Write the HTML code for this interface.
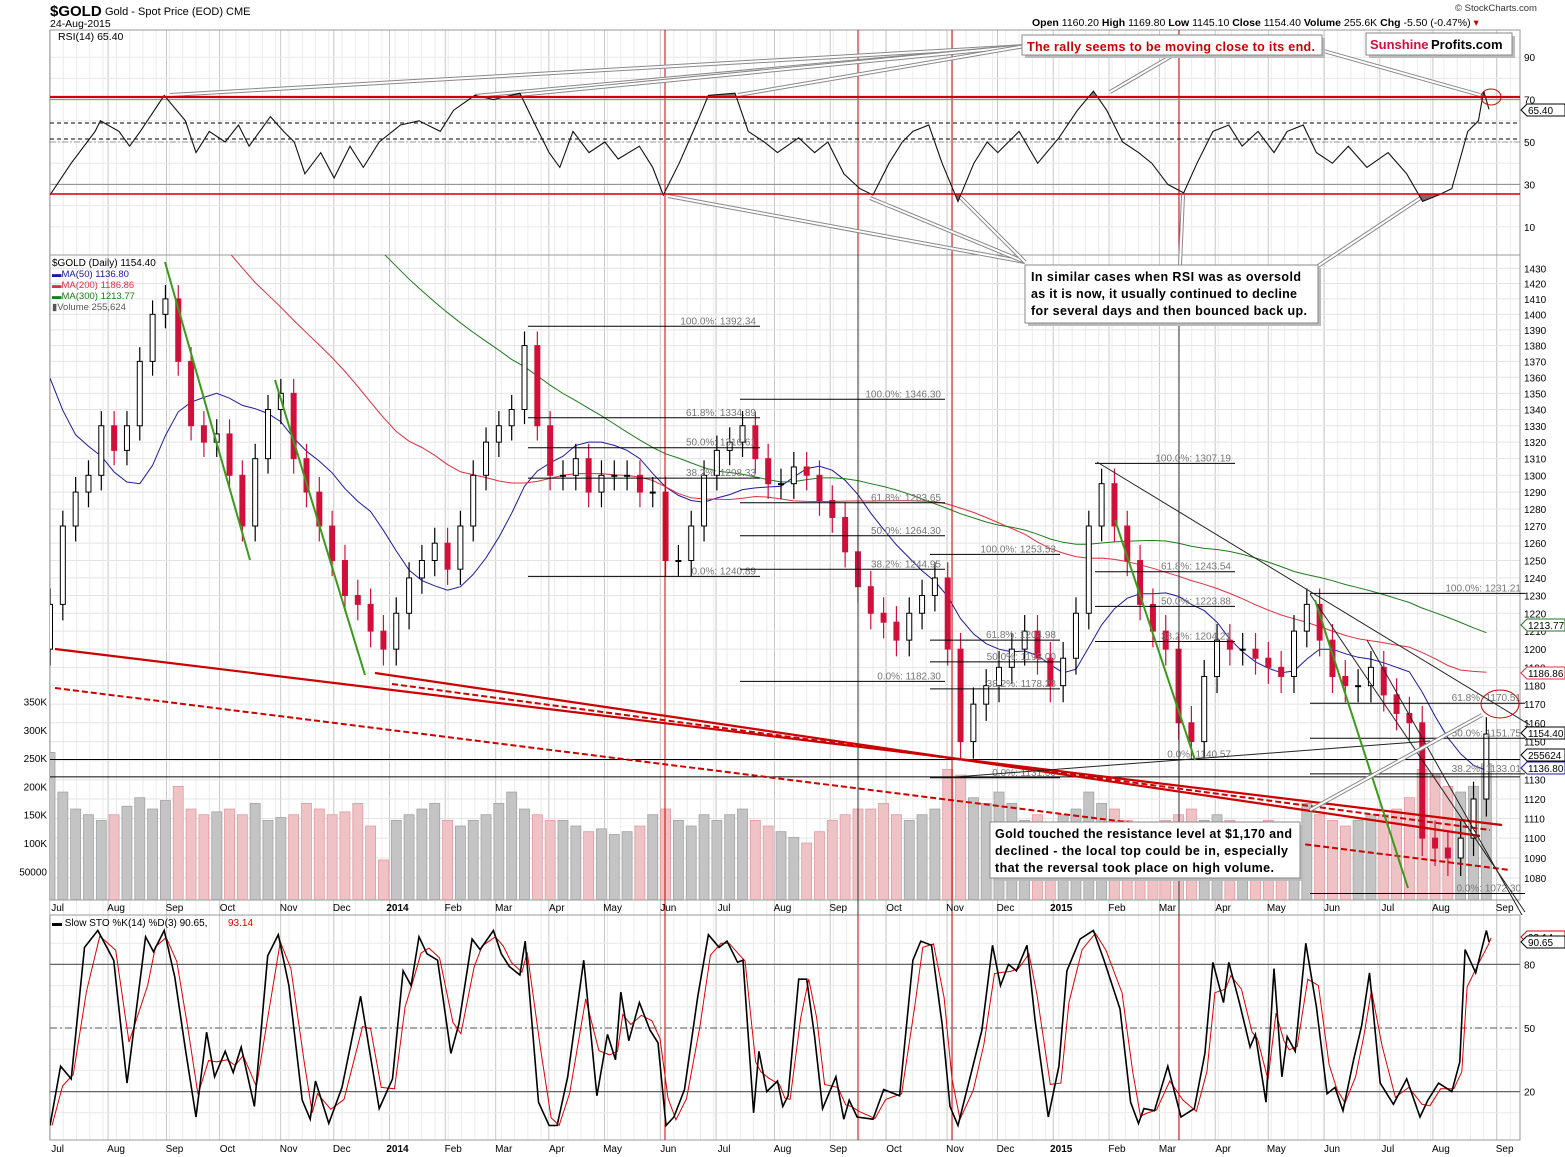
<!DOCTYPE html>
<html><head><meta charset="utf-8"><title>$GOLD chart</title>
<style>
html,body{margin:0;padding:0;background:#fff;}
svg{display:block;font-family:"Liberation Sans",Arial,sans-serif;}
</style></head>
<body>
<svg id="chart" width="1565" height="1157" viewBox="0 0 1565 1157" xmlns="http://www.w3.org/2000/svg">
<defs>
<clipPath id="clipMain"><rect x="50" y="255" width="1470" height="645"/></clipPath>
<clipPath id="clipRsi"><rect x="50" y="30" width="1470" height="225"/></clipPath>
<clipPath id="clipSto"><rect x="50" y="915" width="1470" height="225"/></clipPath>
<clipPath id="clipOS"><rect x="50" y="194" width="1470" height="61"/></clipPath>
<clipPath id="clipOB"><rect x="50" y="30" width="1470" height="67"/></clipPath>
</defs>
<rect x="0" y="0" width="1565" height="1157" fill="#fff"/>
<g id="grid"></g>
<g id="vol" clip-path="url(#clipMain)"></g>
<g id="price" clip-path="url(#clipMain)"></g>
<g id="ann"></g>
<g id="rsi"></g>
<g id="sto"></g>
<g id="labels"></g>

<!-- header -->
<text x="50" y="16" font-size="15" font-weight="bold">$GOLD</text>
<text x="105" y="15" font-size="11">Gold - Spot Price (EOD)  CME</text>
<text x="50" y="27" font-size="10.5">24-Aug-2015</text>
<text x="1455" y="11" font-size="9.5" fill="#333">© StockCharts.com</text>
<text x="1032" y="26" font-size="10.5"><tspan font-weight="bold">Open</tspan> 1160.20 <tspan font-weight="bold">High</tspan> 1169.80 <tspan font-weight="bold">Low</tspan> 1145.10 <tspan font-weight="bold">Close</tspan> 1154.40 <tspan font-weight="bold">Volume</tspan> 255.6K <tspan font-weight="bold">Chg</tspan> -5.50 (-0.47%) <tspan fill="#c00">▾</tspan></text>
</svg>
<script>
// ---------------- DATA ----------------
const monthLabels = ["Jul","Aug","Sep","Oct","Nov","Dec","2014","Feb","Mar","Apr","May","Jun","Jul","Aug","Sep","Oct","Nov","Dec","2015","Feb","Mar","Apr","May","Jun","Jul","Aug","Sep"];
const monthDays = [1,23,45,65,88,108,129,150,169,189,210,231,252,274,295,316,339,358,379,400,419,440,460,481,502,522,546];
const priceTicks = [1080,1090,1100,1110,1120,1130,1140,1150,1160,1170,1180,1190,1200,1210,1220,1230,1240,1250,1260,1270,1280,1290,1300,1310,1320,1330,1340,1350,1360,1370,1380,1390,1400,1410,1420,1430];
const volTicks = [50,100,150,200,250,300,350];
const volTickLabels = ["50000","100K","150K","200K","250K","300K","350K"];
const rsiTicks = [10,30,50,70,90];
const stoTicks = [20,50,80];
// weekly closes (Jul 2013 - Aug 2015)
const weeklyClose = [1225,1270,1290,1300,1330,1315,1330,1370,1400,1410,1370,1330,1320,1325,1300,1270,1310,1340,1350,1310,1290,1270,1250,1230,1225,1210,1200,1220,1240,1250,1260,1245,1270,1300,1320,1330,1340,1380,1330,1300,1300,1310,1290,1300,1300,1300,1290,1290,1250,1250,1270,1300,1315,1320,1330,1310,1295,1295,1305,1300,1285,1275,1255,1235,1220,1215,1205,1220,1230,1240,1200,1150,1170,1180,1190,1200,1210,1195,1180,1195,1220,1270,1295,1270,1250,1225,1210,1200,1160,1150,1185,1205,1200,1200,1195,1190,1185,1210,1225,1205,1185,1180,1180,1190,1175,1165,1160,1100,1095,1090,1100,1120,1154];
// weekly closes May 2012 - Jun 2013 (for moving averages)
const priorClose = [1590,1580,1560,1590,1620,1610,1600,1580,1590,1590,1580,1590,1620,1610,1620,1620,1670,1690,1730,1770,1770,1780,1760,1720,1710,1730,1730,1730,1750,1700,1700,1660,1660,1670,1660,1670,1690,1660,1670,1650,1610,1580,1570,1580,1600,1600,1580,1560,1480,1400,1450,1470,1440,1370,1390,1410,1390,1380,1290,1230];
// weekly volume in thousands
const weeklyVol = [260,190,160,150,140,150,165,180,160,175,200,160,150,155,160,150,170,140,145,150,170,160,150,155,170,130,70,140,150,160,170,140,130,140,150,170,190,160,150,140,140,130,120,125,115,120,130,150,160,140,130,150,140,150,160,140,130,120,110,100,120,140,150,160,160,170,150,140,150,160,230,220,180,170,190,170,140,150,110,150,160,190,170,160,140,130,130,140,150,160,140,150,140,130,130,140,120,130,170,150,140,130,140,150,150,160,180,230,220,200,190,200,240];
// RSI(14): trading-day index, value
const rsiDays = [0,8,17,19,26,30,34,43,51,55,60,66,71,75,83,88,92,96,102,107,113,118,124,132,139,147,152,160,167,177,182,188,192,197,203,209,214,222,227,231,237,244,248,258,263,269,274,282,288,293,299,305,310,316,321,325,331,336,342,348,353,357,365,372,380,387,393,398,404,410,415,421,427,432,438,444,449,455,461,466,472,477,483,489,496,504,511,517,523,528,534,538,540,542];
const rsiVals = [25,40,55,60,55,48,55,72,60,45,55,50,58,48,62,55,50,35,45,33,48,38,50,58,60,55,65,72,70,73,60,45,38,55,45,50,42,48,38,25,40,60,72,73,55,50,45,52,45,50,35,28,25,40,50,55,58,40,22,40,50,45,55,40,52,65,74,65,50,45,40,30,26,40,55,58,48,55,45,55,58,45,40,48,38,45,35,22,25,28,55,60,74,65.4];
// Slow STO %K
const stoDays = [0,4,8,13,18,24,29,36,39,43,47,51,55,59,62,66,69,72,77,82,86,90,95,98,100,105,110,117,120,124,129,133,136,139,142,146,151,154,159,162,167,170,173,177,179,184,188,191,195,201,206,210,213,215,218,222,226,229,232,235,239,244,248,252,255,259,261,265,267,270,274,276,278,282,285,288,291,296,299,301,304,310,314,320,325,328,332,336,339,342,347,351,355,358,361,364,368,371,376,380,383,388,393,397,403,407,410,412,416,421,426,431,435,438,442,444,448,452,454,458,461,464,466,469,473,477,481,484,487,491,494,497,501,506,511,516,519,523,528,531,533,537,541,542];
const stoK = [4,32,26,88,96,82,24,93,86,96,74,40,8,48,27,39,29,41,13,84,94,70,16,7,25,5,22,65,42,12,26,77,70,93,85,82,38,52,92,87,96,85,79,75,91,15,4,4,27,82,18,47,35,67,44,62,49,43,4,8,21,65,94,88,91,81,82,10,39,20,25,13,18,73,73,46,12,27,7,16,8,7,21,18,82,91,89,52,13,4,29,49,89,70,80,77,89,54,8,32,77,92,96,82,59,15,5,12,11,32,8,12,38,81,62,81,62,41,47,15,78,27,46,39,90,60,19,22,11,35,51,76,24,14,26,8,16,24,20,34,87,76,96,90.65];

// ---------------- SCALES ----------------
const NS = "http://www.w3.org/2000/svg";
function xd(d){ return 50 + d*2.655; }
function yP(p){ return 878 - Math.log(p/1080)*2172; }
function yV(k){ return 899.6 - k*0.566; }
function yR(v){ return 142 - (v-50)*2.12; }
function yS(v){ return 1028 - (v-50)*2.12; }
const weekStep = 541/112;
function wx(i){ return xd(i*weekStep); }
function el(tag, attrs, parent){
  const e = document.createElementNS(NS, tag);
  for (const k in attrs) e.setAttribute(k, attrs[k]);
  parent.appendChild(e);
  return e;
}
const G = id => document.getElementById(id);

// ---------------- GRID & PANELS ----------------
const grid = G('grid');
for (let d=0; d<=560; d+=5){
  const x = xd(d); if (x>1520) break;
  const l = el('line',{x1:x,x2:x,y1:30,y2:1140,stroke:'#ececec','stroke-width':1},grid);
  
  
}
monthDays.forEach((d,i)=>{
  const x = xd(d)-3; if (x>1520) return;
  const l = el('line',{x1:x,x2:x,y1:30,y2:1140,stroke:'#c8c8c8','stroke-width':1},grid);
  
  
});
priceTicks.forEach(p=>{
  const y = yP(p);
  const l = el('line',{x1:50,x2:1520,y1:y,y2:y,stroke:'#e4e4e4','stroke-width':1},grid);
  
  
});
for (let v=10; v<=90; v+=10){
  const l1 = el('line',{x1:50,x2:1520,y1:yR(v),y2:yR(v),stroke:'#e8e8e8'},grid);
  
  
  const l2 = el('line',{x1:50,x2:1520,y1:yS(v),y2:yS(v),stroke:'#e8e8e8'},grid);
  
  
}
[[30,225],[255,645],[915,225]].forEach(([y,h])=>{
  const r = el('rect',{x:50,y:y,width:1470,height:h,fill:'none',stroke:'#999','stroke-width':1},grid);
  
  
});

// ---------------- VOLUME ----------------
const vol = G('vol');
weeklyVol.forEach((v,i)=>{
  const open = i===0 ? 1200 : weeklyClose[i-1];
  const down = weeklyClose[i] < open;
  const x = wx(i);
  const r = el('rect',{x:x-5,y:yV(v),width:10,height:899.6-yV(v),fill:down?'#efc2c5':'#c4c4c4',stroke:down?'#e39aa1':'#a3a3a3','stroke-width':0.8},vol);
  
  
});

// ---------------- MOVING AVERAGES ----------------
const allClose = priorClose.concat(weeklyClose);
const off = priorClose.length;
function maPath(n){
  let d='';
  for (let i=0;i<weeklyClose.length;i++){
    const j=i+off; let s=0,c=0;
    for (let k=Math.max(0,j-n+1);k<=j;k++){ s+=allClose[k]; c++; }
    d += (i?'L':'M')+wx(i).toFixed(1)+','+yP(s/c).toFixed(1);
  }
  return d;
}
const price = G('price');
[[10,'#1a1aa0','ma-50-line'],[40,'#e03040','ma-200-line'],[60,'#1f7a1f','ma-300-line']].forEach(([n,c,name])=>{
  const p = el('path',{d:maPath(n),fill:'none',stroke:c,'stroke-width':1},price);
  
  
});

// ---------------- CANDLES ----------------
weeklyClose.forEach((c,i)=>{
  const o = i===0 ? 1200 : weeklyClose[i-1];
  const up = c>=o;
  const x = wx(i);
  const hi = Math.max(o,c)+9, lo = Math.min(o,c)-9;
  const col = up ? '#000' : '#d0103a';
  const w = el('line',{x1:x,x2:x,y1:yP(hi),y2:yP(lo),stroke:col,'stroke-width':1.2},price);
  
  
  const top = yP(Math.max(o,c)), bot = yP(Math.min(o,c));
  const b = el('rect',{x:x-2.5,y:top,width:5,height:Math.max(1,bot-top),fill:up?'#fff':'#d0103a',stroke:col,'stroke-width':1},price);
  
  
});

// ---------------- ANNOTATIONS (main) ----------------
const ann = G('ann');
function line(x1,y1,x2,y2,stroke,w,dash,name){
  const a = {x1:x1,y1:y1,x2:x2,y2:y2,stroke:stroke,'stroke-width':w};
  if (dash) a['stroke-dasharray']=dash;
  const l = el('line',a,ann);
  
  
  return l;
}
line(665,30,665,1140,'#cc0000',1,null,'marker-vertical-jun-2014');
line(952,30,952,1140,'#cc0000',1,null,'marker-vertical-nov-2014');
line(858,30,858,1140,'#333',1,null,'marker-vertical-sep-2014');
line(1179,30,1179,1140,'#333',1,null,'marker-vertical-mar-2015');
line(858,30,858,255,'#cc0000',1,null,'marker-vertical-rsi');
line(1179,30,1179,255,'#cc0000',1,null,'marker-vertical-rsi');
line(858,915,858,1140,'#cc0000',1,null,'marker-vertical-sto');
line(1179,915,1179,1140,'#cc0000',1,null,'marker-vertical-sto');
line(50,yP(1140.57),1520,yP(1140.57),'#000',1,null,'support-line-1140');
line(50,yP(1131.5),1520,yP(1131.5),'#000',1,null,'support-line-1132');
const fibSets = [
 [528,760,[[1392.34,'100.0%: 1392.34'],[1334.89,'61.8%: 1334.89'],[1316.61,'50.0%: 1316.61'],[1298.33,'38.2%: 1298.33'],[1240.89,'0.0%: 1240.89']]],
 [740,945,[[1346.30,'100.0%: 1346.30'],[1283.65,'61.8%: 1283.65'],[1264.30,'50.0%: 1264.30'],[1244.95,'38.2%: 1244.95'],[1182.30,'0.0%: 1182.30']]],
 [930,1060,[[1253.53,'100.0%: 1253.53'],[1204.98,'61.8%: 1204.98'],[1193.00,'50.0%: 1193.00'],[1178.28,'38.2%: 1178.28'],[1131.00,'0.0%: 1131.00']]],
 [1095,1235,[[1307.19,'100.0%: 1307.19'],[1243.54,'61.8%: 1243.54'],[1223.88,'50.0%: 1223.88'],[1204.21,'38.2%: 1204.21'],[1140.57,'0.0%: 1140.57']]],
 [1310,1525,[[1231.21,'100.0%: 1231.21'],[1170.51,'61.8%: 1170.51'],[1151.75,'50.0%: 1151.75'],[1133.01,'38.2%: 1133.01'],[1072.30,'0.0%: 1072.30']]]
];
fibSets.forEach(([x1,x2,lv])=>{
  lv.forEach(([p,t])=>{
    const y=yP(p);
    line(x1,y,x2,y,'#000',1,null,'fib-level-line');
    const tx = el('text',{x:x2-4,y:y-2,'font-size':10,fill:'#777','text-anchor':'end'},ann);
    tx.textContent=t;
    
    
  });
});
line(55,649,1502,825,'#cc0000',2.2,null,'red-trendline-long');
line(375,673,1480,836,'#cc0000',2.2,null,'red-trendline-dec-2013');
line(55,688,1510,870,'#cc0000',2,'6,3','red-dashed-trendline-1');
line(392,684,1490,830,'#cc0000',2,'6,3','red-dashed-trendline-2');
line(1097,462,1530,725,'#222',1,null,'resistance-trendline-2015');
line(1310,594,1525,912,'#222',1,null,'resistance-trendline-may');
line(1367,640,1522,915,'#222',1,null,'resistance-trendline-jun');
line(955,777,1430,741,'#222',1,null,'support-trendline-rising');
line(165,262,250,560,'#3a9a1a',2,null,'green-decline-line-1');
line(275,380,365,675,'#3a9a1a',2,null,'green-decline-line-2');
line(1115,520,1195,760,'#3a9a1a',2,null,'green-decline-line-3');
line(1315,600,1408,888,'#3a9a1a',2,null,'green-decline-line-4');
function callout(x1,y1,x2,y2){
  line(x1,y1,x2,y2,'#888',4,null,'callout-line');
  line(x1,y1,x2,y2,'#fff',2,null,'callout-line-core');
}
callout(1310,810,1482,715);
const c1 = el('ellipse',{cx:1500,cy:704,rx:19,ry:14,fill:'none',stroke:'#cc0000','stroke-width':1},ann);



// ---------------- RSI ----------------
const rsi = G('rsi');
let rp='';
rsiDays.forEach((d,i)=>{ rp += (i?'L':'M')+xd(d).toFixed(1)+','+yR(rsiVals[i]).toFixed(1); });
const os = el('path',{d:rp+'L'+xd(542)+',194L50,194Z',fill:'#8a6464','clip-path':'url(#clipOS)'},rsi);


const ob = el('path',{d:rp+'L'+xd(542)+',97L50,97Z',fill:'#7a8a7a','clip-path':'url(#clipOB)'},rsi);


[[yR(70),'#888',1,null],[yR(30),'#888',1,null],[123,'#000',1,'4,3'],[139,'#000',1,'4,3'],[142,'#999',1,'6,2,2,2']].forEach(([y,c,w,da])=>{
  const a={x1:50,x2:1520,y1:y,y2:y,stroke:c,'stroke-width':w}; if(da)a['stroke-dasharray']=da;
  const l=el('line',a,rsi);
  
  
});
const rl = el('path',{d:rp,fill:'none',stroke:'#111','stroke-width':1.1,'clip-path':'url(#clipRsi)'},rsi);


const r70 = el('line',{x1:50,x2:1520,y1:97,y2:97,stroke:'#cc0000','stroke-width':2.2},rsi);


const r30 = el('line',{x1:50,x2:1520,y1:194,y2:194,stroke:'#cc0000','stroke-width':1.4},rsi);


const c2 = el('ellipse',{cx:1491,cy:97,rx:10,ry:8,fill:'none',stroke:'#cc0000','stroke-width':1},rsi);


[[1025,46,170,95],[1025,46,475,96],[1025,46,518,95],[1025,46,738,95],[1175,54,1110,92],[1320,50,1480,95],
 [1025,262,668,196],[1025,262,870,198],[1025,262,960,197],[1180,265,1183,195],[1315,268,1425,195]].forEach(a=>callout(...a));

// ---------------- STO ----------------
const sto = G('sto');
[[yS(80),'#666',null],[yS(20),'#666',null],[yS(50),'#777','7,3,2,3']].forEach(([y,c,da])=>{
  const a={x1:50,x2:1520,y1:y,y2:y,stroke:c,'stroke-width':1.2}; if(da)a['stroke-dasharray']=da;
  const l=el('line',a,sto);
  
  
});
let kp='', dp='';
stoDays.forEach((d,i)=>{
  kp += (i?'L':'M')+xd(d).toFixed(1)+','+yS(stoK[i]).toFixed(1);
  const a = stoK[Math.max(0,i-1)], b = stoK[i];
  dp += (i?'L':'M')+(xd(d)+2).toFixed(1)+','+yS((a+2*b)/3).toFixed(1);
});
const dl = el('path',{d:dp,fill:'none',stroke:'#e00000','stroke-width':1,'clip-path':'url(#clipSto)'},sto);


const kl = el('path',{d:kp,fill:'none',stroke:'#000','stroke-width':1.6,'clip-path':'url(#clipSto)'},sto);



// ---------------- AXIS LABELS ----------------
const lab = G('labels');
function txt(x,y,s,t,attrs,name){
  const e = el('text',Object.assign({x:x,y:y,'font-size':s},attrs||{}),lab);
  e.textContent=t;
  
  
  return e;
}
priceTicks.forEach(p=>txt(1524,yP(p)+4,10,String(p),{},'price-tick-label'));
volTicks.forEach((v,i)=>txt(47,yV(v)+4,10,volTickLabels[i],{'text-anchor':'end'},'volume-tick-label'));
rsiTicks.forEach(v=>txt(1524,yR(v)+4,10,String(v),{},'rsi-tick-label'));
stoTicks.forEach(v=>txt(1524,yS(v)+4,10,String(v),{},'sto-tick-label'));
monthLabels.forEach((m,i)=>{
  const x = xd(monthDays[i])+5;
  const bold = /^\d{4}$/.test(m);
  txt(x,911,10,m,{'text-anchor':'middle','font-weight':bold?'bold':'normal'},'x-axis-label-main');
  txt(x,1152,10,m,{'text-anchor':'middle','font-weight':bold?'bold':'normal'},'x-axis-label-bottom');
});
txt(58,40,10.5,'RSI(14) 65.40',{},'rsi-legend');
txt(52,266,10,'$GOLD (Daily) 1154.40',{},'price-legend');
txt(52,277,9.5,'▬MA(50) 1136.80',{fill:'#1a1aa0'},'legend-ma50');
txt(52,288,9.5,'▬MA(200) 1186.86',{fill:'#e03040'},'legend-ma200');
txt(52,299,9.5,'▬MA(300) 1213.77',{fill:'#1f7a1f'},'legend-ma300');
txt(52,310,9.5,'▮Volume 255,624',{fill:'#555'},'legend-volume');
txt(52,926,10,'▬ Slow STO %K(14) %D(3) 90.65, ',{},'sto-legend');
txt(228,926,10,'93.14',{fill:'#e00000'},'sto-legend-d');
function tag(y,t,c,name){
  const r=el('path',{d:`M1521,${y} l6,-6 h38 v12 h-38 z`,fill:'#fff',stroke:c,'stroke-width':1},lab);
  
  
  txt(1528,y+4,10,t,{fill:'#000'},name+'-text');
}
tag(110,'65.40','#000','rsi-value-tag');
tag(625,'1213.77','#1f7a1f','ma300-value-tag');
tag(673,'1186.86','#e03040','ma200-value-tag');
tag(733,'1154.40','#000','price-value-tag');
tag(755,'255624','#000','volume-value-tag');
tag(768,'1136.80','#1a1aa0','ma50-value-tag');
tag(937,'93.14','#e00000','sto-d-value-tag');
tag(942,'90.65','#000','sto-k-value-tag');

// ---------------- TEXT BOXES ----------------
function box(x,y,w,h,name){
  const s=el('rect',{x:x+3,y:y+3,width:w,height:h,fill:'#bbb'},lab);
  
  
  const r=el('rect',{x:x,y:y,width:w,height:h,fill:'#fff',stroke:'#888','stroke-width':1},lab);
  
  
}
box(1022,35,300,20,'rally-annotation-box');
txt(1027,51,12.5,'The rally seems to be moving close to its end.',{fill:'#cc0000','font-weight':'bold',textLength:288},'rally-annotation-text');
box(1366,33,146,22,'sunshine-profits-logo');
txt(1370,49,13,'Sunshine',{fill:'#d0103a','font-weight':'bold'},'logo-sunshine');
txt(1431,49,13,'Profits.com',{fill:'#000','font-weight':'bold'},'logo-profits');
box(1025,265,293,58,'rsi-annotation-box');
txt(1031,281,12.5,'In similar cases when RSI was as oversold',{'font-weight':'bold',textLength:270},'rsi-annotation-line1');
txt(1031,298,12.5,'as it is now, it usually continued to decline',{'font-weight':'bold',textLength:266},'rsi-annotation-line2');
txt(1031,315,12.5,'for several days and then bounced back up.',{'font-weight':'bold',textLength:276},'rsi-annotation-line3');
box(990,822,310,56,'gold-annotation-box');
txt(995,838,12.5,'Gold touched the resistance level at $1,170 and',{'font-weight':'bold',textLength:297},'gold-annotation-line1');
txt(995,855,12.5,'declined - the local top could be in, especially',{'font-weight':'bold',textLength:293},'gold-annotation-line2');
txt(995,872,12.5,'that the reversal took place on high volume.',{'font-weight':'bold',textLength:279},'gold-annotation-line3');
</script>
</body></html>
